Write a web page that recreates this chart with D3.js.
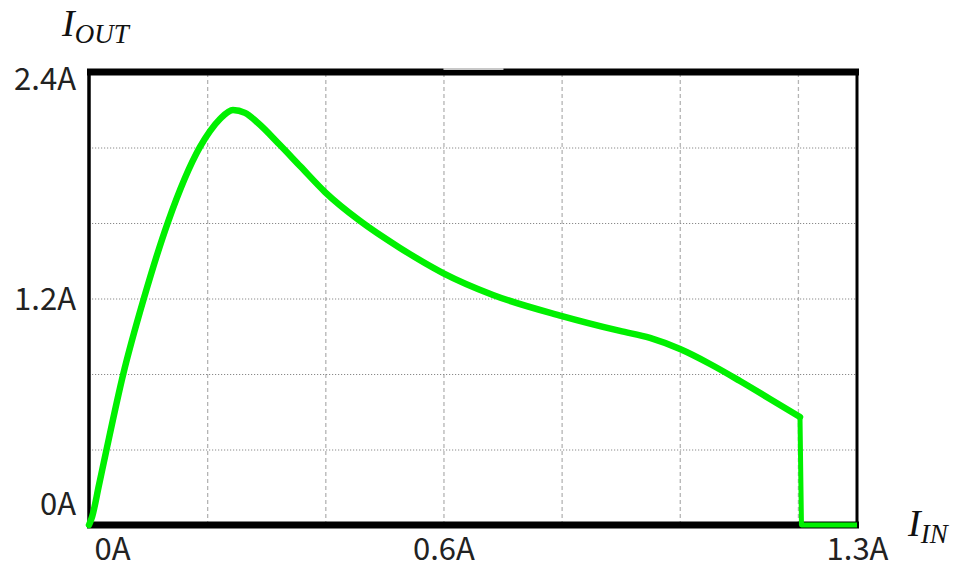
<!DOCTYPE html>
<html>
<head>
<meta charset="utf-8">
<script src="https://cdn.jsdelivr.net/npm/d3@7"></script>
<style>
  body { margin: 0; background: #fff; }
  svg { display: block; }
</style>
</head>
<body>
<svg id="chart"></svg>
<script>
// data (amps)
const iin  = [0, 0.0051, 0.0169, 0.0288, 0.0576, 0.0931, 0.1337, 0.1879, 0.2048, 0.2217, 0.2437, 0.2641, 0.2861, 0.3233, 0.3572, 0.3995, 0.4587, 0.5264, 0.5992, 0.6838, 0.8007, 0.8988, 0.9496, 1.0004, 1.0512, 1.1019, 1.1527, 1.2035];
const iout = [0, 0.042, 0.212, 0.387, 0.795, 1.203, 1.605, 2.003, 2.087, 2.151, 2.199, 2.183, 2.130, 2.013, 1.902, 1.764, 1.611, 1.468, 1.335, 1.219, 1.107, 1.028, 0.991, 0.932, 0.853, 0.763, 0.668, 0.572];
// cut-off: output falls to zero and stays there
const cutIin  = [1.2035, 1.206, 1.30];
const cutIout = [0.572, 0, 0];

const xGrid = [0.2, 0.4, 0.6, 0.8, 1.0, 1.2];
const yGrid = [0.4, 0.8, 1.2, 1.6, 2.0];
const xTicks = [0, 0.6, 1.3];
const xTickLabels = ["0A", "0.6A", "1.3A"];
const yTicks = [0, 1.2, 2.4];
const yTickLabels = ["0A", "1.2A", "2.4A"];

const W = 955, H = 570;
const pLeft = 89, pRight = 857, pTop = 72, pBottom = 525;

const svg = d3.select("#chart").attr("width", W).attr("height", H);

const x = d3.scaleLinear().domain([0, 1.3]).range([pLeft, pRight]);
const y = d3.scaleLinear().domain([0, 2.4]).range([pBottom, pTop]);

// grid
svg.append("g")
  .attr("transform", `translate(0,${pBottom})`)
  .call(d3.axisBottom(x).tickValues(xGrid).tickSize(-(pBottom - pTop)).tickFormat(""))
  .call(g => g.select(".domain").remove())
  .selectAll("line")
    .attr("stroke", "#b4b4b4")
    .attr("stroke-width", 1.3)
    .attr("stroke-dasharray", "4,3");

svg.append("g")
  .attr("transform", `translate(${pLeft},0)`)
  .call(d3.axisLeft(y).tickValues(yGrid).tickSize(-(pRight - pLeft)).tickFormat(""))
  .call(g => g.select(".domain").remove())
  .selectAll("line")
    .attr("stroke", "#8a8a8a")
    .attr("stroke-width", 1)
    .attr("stroke-dasharray", "1.2,1.8");

// frame
const frame = svg.append("g");
frame.append("line").attr("x1", pLeft - 2).attr("x2", pRight + 2).attr("y1", pTop).attr("y2", pTop)
  .attr("stroke", "#000").attr("stroke-width", 7);
frame.append("rect").attr("x", x(0.6)).attr("y", pTop - 4).attr("width", 60).attr("height", 2)
  .attr("fill", "#c8c8c8");
frame.append("line").attr("x1", pLeft - 2).attr("x2", pRight + 2).attr("y1", pBottom).attr("y2", pBottom)
  .attr("stroke", "#000").attr("stroke-width", 7);
frame.append("line").attr("x1", pLeft).attr("x2", pLeft).attr("y1", pTop).attr("y2", pBottom)
  .attr("stroke", "#000").attr("stroke-width", 3.5);
frame.append("line").attr("x1", pRight).attr("x2", pRight).attr("y1", pTop).attr("y2", pBottom)
  .attr("stroke", "#000").attr("stroke-width", 3);

// curve
const pts = iin.map((d, i) => [d, iout[i]]);
const cutPts = cutIin.map((d, i) => [d, cutIout[i]]);

const smooth = d3.line().x(d => x(d[0])).y(d => y(d[1])).curve(d3.curveMonotoneX);
const straight = d3.line().x(d => x(d[0])).y(d => y(d[1]));

svg.append("path").datum(pts)
  .attr("d", smooth)
  .attr("fill", "none")
  .attr("stroke", "#00f000")
  .attr("stroke-width", 6.5)
  .attr("stroke-linejoin", "round")
  .attr("stroke-linecap", "round");

svg.append("path").datum(cutPts)
  .attr("d", straight)
  .attr("fill", "none")
  .attr("stroke", "#00f000")
  .attr("stroke-width", 5)
  .attr("stroke-linejoin", "round");

// tick labels
const tickFont = "'Noto Sans CJK JP', 'Noto Sans', sans-serif";

const yAx = svg.append("g")
  .attr("transform", `translate(76,0)`)
  .call(d3.axisLeft(y).tickValues(yTicks).tickSize(0).tickPadding(0)
    .tickFormat((d, i) => yTickLabels[i]));
yAx.select(".domain").remove();
yAx.selectAll("text")
  .attr("font-family", tickFont)
  .attr("font-size", 31)
  .attr("fill", "#222")
  .attr("dy", d => d === 2.4 ? "0.55em" : d === 0 ? "-0.33em" : "0.35em");

const xAx = svg.append("g")
  .attr("transform", `translate(0,${pBottom})`)
  .call(d3.axisBottom(x).tickValues(xTicks).tickSize(0).tickPadding(0)
    .tickFormat((d, i) => xTickLabels[i]));
xAx.select(".domain").remove();
xAx.selectAll("text")
  .attr("font-family", tickFont)
  .attr("font-size", 31)
  .attr("fill", "#222")
  .attr("dy", "0")
  .attr("y", 35)
  .attr("dx", d => d === 0 ? 23 : 0);

// axis titles
const titleFont = "'Liberation Serif', 'DejaVu Serif', serif";
const yTitle = svg.append("text")
  .attr("x", 62).attr("y", 36)
  .attr("font-family", titleFont)
  .attr("font-style", "italic")
  .attr("font-size", 38)
  .attr("fill", "#111");
yTitle.append("tspan").text("I");
yTitle.append("tspan").attr("font-size", 27).attr("dy", 7).text("OUT");

const xTitle = svg.append("text")
  .attr("x", 908).attr("y", 536)
  .attr("font-family", titleFont)
  .attr("font-style", "italic")
  .attr("font-size", 38)
  .attr("fill", "#111");
xTitle.append("tspan").text("I");
xTitle.append("tspan").attr("font-size", 27).attr("dy", 7).text("IN");
</script>
</body>
</html>
